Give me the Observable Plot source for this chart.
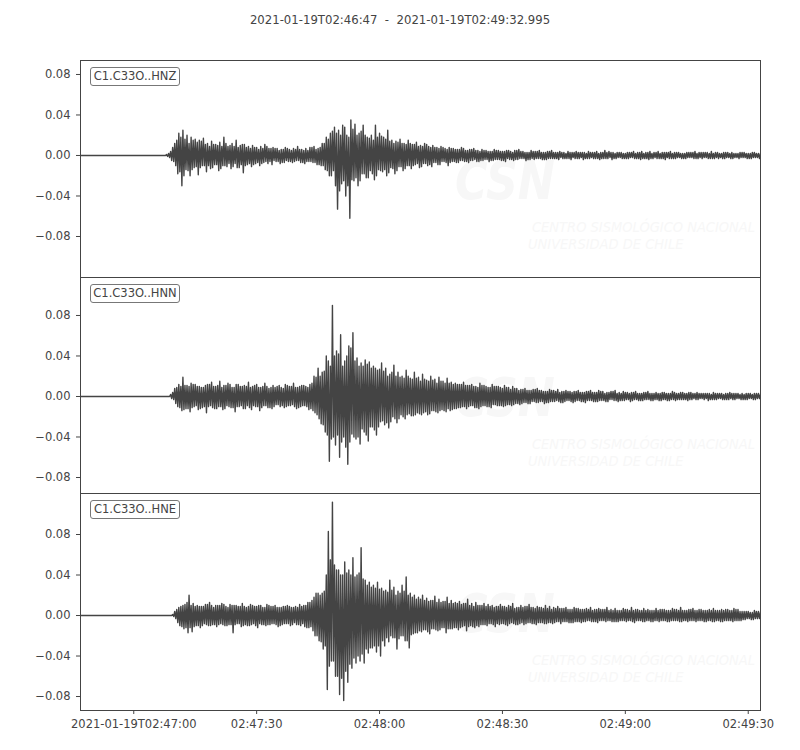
<!DOCTYPE html>
<html>
<head>
<meta charset="utf-8">
<script src="https://cdn.jsdelivr.net/npm/d3@7"></script>
<script src="https://cdn.jsdelivr.net/npm/@observablehq/plot@0.6"></script>
<style>
  body { margin: 0; background: #fff; }
  #wrap { position: relative; width: 800px; height: 750px; font-family: "DejaVu Sans", sans-serif; color: #444; overflow: hidden; }
  .abs { position: absolute; }
  .title { left: 0; width: 800px; top: 13px; text-align: center; font-size: 11.7px; line-height: 14px; white-space: pre; }
  .lbl { left: 90px; width: 88px; height: 17px; border: 1px solid #777; border-radius: 3px; background: #fff;
         font-size: 11.5px; line-height: 17px; text-align: center; white-space: pre; }
  .wm1 { font-weight: bold; font-style: italic; font-size: 54px; line-height: 54px; color: #f7f7f7; transform: scaleX(0.82); transform-origin: 0 0; white-space: pre; }
  .wm2 { font-style: italic; font-size: 14.5px; line-height: 14.5px; color: #f7f7f7; transform: scaleX(0.9); transform-origin: 0 0; white-space: pre; }
</style>
</head>
<body>
<div id="wrap"></div>
<script>
// ---- data ----
const titleText = "2021-01-19T02:46:47  -  2021-01-19T02:49:32.995";
const startISO = "2021-01-19T02:46:47Z";
const endISO = "2021-01-19T02:49:32.995Z";
const stepSeconds = 0.5;      // one window of the read-off trace
const unit = 0.001;           // values below are in thousandths
const channels = ["C1.C33O..HNZ", "C1.C33O..HNN", "C1.C33O..HNE"];

// for every 0.5 s window: the two opposite extremes (A, B)
const hnzA = [
0,0,0,0,0,0,0,0,0,0, 0,0,0,0,0,0,0,0,0,0, 0,0,0,0,0,0,0,0,0,0, 0,0,0,0,0,0,0,0,0,0, 0,0,
1,-2,4,-6,12,-18,22,-30,25,-14,20,-20,18,-12,16,-19,15,-10,17,-16,
12,-13,14,-9,11,-15,13,-10,18,-11,9,-13,12,-8,15,-12,10,-17,11,-9,
9,-11,10,-8,8,-10,9,-7,11,-8,7,-9,8,-6,7,-8,6,-7,8,-6,
6,-7,7,-5,9,-7,6,-8,7,-6,8,-7,9,-9,7,-10,12,-14,18,-20,
22,-15,28,-53,25,-28,30,-40,20,-62,35,-25,31,-30,22,-18,30,-22,18,-15,
20,-24,30,-14,22,-16,18,-20,25,-12,15,-18,14,-11,16,-15,12,-10,15,-13,
11,-9,13,-12,10,-8,12,-10,9,-11,10,-7,8,-9,9,-6,7,-10,8,-6,
7,-7,6,-5,8,-6,5,-7,6,-5,7,-6,5,-5,6,-4,5,-6,4,-5,
6,-4,5,-5,4,-6,5,-4,4,-5,5,-4,6,-3,4,-5,3,-4,5,-4,
4,-3,5,-4,3,-4,4,-3,5,-3,3,-4,4,-3,3,-3,4,-4,3,-3,
4,-3,3,-4,3,-3,4,-2,3,-3,4,-4,3,-3,5,-3,4,-4,3,-3,
3,-2,3,-3,2,-3,3,-2,4,-3,3,-4,4,-3,3,-4,4,-3,3,-3,
4,-3,3,-4,3,-3,4,-3,3,-2,3,-3,2,-3,3,-2,3,-3,4,-3,
3,-3,3,-2,3,-3,4,-3,3,-3,2,-3,3,-2,3,-3,3,-2,2,-3,
3,-2,3,-3,2,-3,3,-2,2,-3,2
];
const hnzB = [
0,0,0,0,0,0,0,0,0,0, 0,0,0,0,0,0,0,0,0,0, 0,0,0,0,0,0,0,0,0,0, 0,0,0,0,0,0,0,0,0,0, 0,0,
-1,2,-5,8,-10,15,-16,18,-20,16,-15,12,-14,15,-11,13,-12,14,-10,11,
-10,9,-12,11,-9,10,-13,9,-10,12,-8,10,-11,9,-12,8,-9,11,-10,8,
-8,7,-9,8,-7,6,-8,7,-6,9,-6,7,-5,7,-6,5,-7,6,-5,7,
-6,5,-6,6,-5,6,-7,5,-6,5,-6,8,-7,6,-9,8,-10,12,-15,16,
-20,24,-30,22,-35,20,-25,28,-30,18,-24,26,-22,20,-25,24,-18,20,-22,17,
-18,15,-20,18,-15,19,-14,16,-17,14,-13,12,-15,13,-11,12,-13,11,-10,12,
-10,11,-8,9,-11,9,-8,11,-9,8,-7,8,-9,7,-6,8,-7,6,-7,7,
-6,6,-7,6,-5,7,-6,5,-5,6,-4,5,-6,4,-5,5,-4,4,-5,4,
-4,5,-4,4,-5,4,-3,5,-4,3,-4,5,-3,4,-3,3,-4,3,-3,4,
-3,4,-3,3,-4,3,-3,4,-3,3,-3,3,-2,3,-3,2,-3,3,-2,3,
-3,3,-2,3,-3,2,-3,3,-3,3,-3,2,-3,3,-3,3,-2,3,-3,2,
-2,3,-3,2,-3,3,-2,3,-3,2,-3,3,-3,2,-3,3,-3,2,-2,3,
-3,2,-3,3,-2,3,-3,2,-3,3,-2,2,-3,2,-2,3,-2,3,-3,2,
-2,3,-2,3,-3,2,-3,2,-2,3,-2,2,-3,3,-2,2,-3,2,-2,2,
-2,3,-2,2,-3,2,-2,3,-2,2,-2
];

const hnnA = [
0,0,0,0,0,0,0,0,0,0, 0,0,0,0,0,0,0,0,0,0, 0,0,0,0,0,0,0,0,0,0, 0,0,0,0,0,0,0,0,0,0, 0,0,0,0,
2,-3,8,-10,12,-14,19,-12,11,-15,13,-10,12,-13,10,-11,9,-16,12,-9,
14,-12,10,-10,15,-13,11,-9,13,-11,9,-15,12,-10,10,-12,11,-9,14,-13,
10,-10,12,-14,9,-9,13,-11,8,-12,11,-8,10,-10,9,-11,12,-9,10,-8,
13,-12,9,-10,11,-9,10,-13,12,-14,20,-18,28,-27,24,-35,40,-64,30,90,
-48,45,-60,61,-40,35,-67,50,-37,63,-42,38,-47,33,-35,36,-44,34,-30,30,
-38,26,-25,33,-28,28,-31,22,-20,31,-26,24,-18,20,-22,26,-17,18,-19,24,
-16,19,-18,22,-15,16,-17,20,-14,17,-16,19,-13,15,-15,18,-14,14,-12,13,
-11,12,-10,14,-12,11,-9,12,-11,10,-12,13,-9,11,-10,9,-11,12,-8,10,
-9,9,-10,11,-8,9,-9,10,-7,8,-8,7,-6,8,-7,6,-5,7,-6,8,
-5,6,-7,5,-6,7,-5,6,-4,7,-6,5,-5,6,-4,5,-6,5,-4,6,
-5,4,-6,5,-4,6,-5,4,-5,6,-4,5,-5,4,-3,5,-4,6,-5,4,
-4,5,-3,4,-5,4,-3,5,-4,3,-4,4,-3,5,-4,3,-3,4,-4,3,
-3,4,-4,3,-3,5,-4,3,-3,4,-3,3,-4,4,-3,3,-3,4,-2,3,
-3,3,-4,3,-3,4,-3,3,-2,3,-3,3,-3,4,-3,3,-2,3,-3,3,
-3,3,-2,3,-3,3,-2,3,-3
];
const hnnB = [
0,0,0,0,0,0,0,0,0,0, 0,0,0,0,0,0,0,0,0,0, 0,0,0,0,0,0,0,0,0,0, 0,0,0,0,0,0,0,0,0,0, 0,0,0,0,
-2,4,-7,9,-11,10,-13,11,-12,10,-11,12,-9,10,-12,9,-10,11,-10,12,
-11,10,-12,11,-10,9,-12,11,-10,12,-11,9,-10,12,-9,10,-12,10,-11,9,
-9,11,-10,9,-11,10,-9,10,-11,9,-10,9,-8,11,-9,8,-10,11,-9,10,
-10,9,-11,10,-9,11,-10,9,-12,13,-16,19,-22,20,-28,25,-38,35,-42,-40,
40,-38,42,-45,30,-50,40,-45,48,-40,35,-40,30,-32,30,-38,32,-30,28,-33,
28,-30,27,-24,25,-26,20,-25,24,-22,20,-22,19,-20,18,-18,20,-19,17,-18,
18,-17,15,-16,17,-18,15,-14,16,-15,13,-14,15,-14,13,-12,13,-13,12,-12,
12,-11,12,-10,11,-10,11,-9,10,-11,9,-10,11,-9,10,-10,9,-8,10,-9,
10,-9,8,-9,9,-8,7,-8,8,-7,6,-7,7,-6,6,-7,6,-5,7,-6,
6,-5,5,-6,5,-5,6,-5,5,-5,4,-6,5,-4,5,-5,4,-5,5,-4,
4,-5,4,-4,5,-4,4,-5,4,-4,5,-4,3,-5,4,-3,5,-4,3,-4,
3,-4,4,-3,3,-4,4,-3,3,-4,3,-3,4,-3,3,-4,3,-3,3,-4,
4,-3,3,-4,3,-3,4,-3,3,-3,4,-3,3,-3,4,-2,3,-3,3,-2,
3,-2,3,-3,2,-3,3,-2,3,-3,2,-3,3,-2,3,-3,3,-2,2,-3,
2,-3,3,-2,2,-3,3,-2,2
];

const hneA = [
0,0,0,0,0,0,0,0,0,0, 0,0,0,0,0,0,0,0,0,0, 0,0,0,0,0,0,0,0,0,0, 0,0,0,0,0,0,0,0,0,0, 0,0,0,0,0,
1,-3,6,-10,9,-13,11,-17,20,-16,12,-10,10,-12,9,-8,11,-10,13,-9,
8,-11,10,-8,12,-10,9,-9,11,-17,10,-8,9,-11,12,-9,8,-10,11,-8,
9,-12,10,-9,8,-10,11,-9,9,-8,10,-11,8,-9,9,-8,10,-10,8,-7,
9,-9,11,-8,10,-12,13,-11,15,-20,22,-25,20,-33,24,-73,83,-45,112,-60,
45,-78,40,-84,53,-66,45,-52,57,-47,40,-45,67,-47,35,-37,33,-32,30,-36,
33,-40,27,-30,25,-26,35,-22,28,-33,24,-20,30,-25,38,-32,22,-18,20,-17,
18,-16,20,-14,17,-18,15,-13,19,-15,16,-12,14,-17,18,-13,15,-12,13,-14,
14,-11,12,-15,16,-10,12,-12,13,-11,10,-9,12,-10,11,-8,10,-11,9,-9,
11,-8,9,-10,10,-7,12,-9,8,-8,10,-9,9,-7,11,-8,8,-9,9,-7,
8,-8,10,-7,9,-8,8,-6,9,-8,7,-6,8,-7,6,-7,8,-6,7,-7,
6,-6,7,-5,8,-6,6,-7,7,-5,6,-6,8,-5,6,-6,7,-6,5,-5,
7,-6,6,-5,8,-7,6,-5,5,-6,7,-5,6,-6,5,-5,7,-6,6,-5,
6,-6,5,-5,7,-5,6,-6,8,-5,5,-6,6,-5,7,-6,5,-5,6,-6,
5,-5,6,-6,7,-5,5,-6,6,-5,6,-5,5,-6,7,-5,6,-5,4,-4,
4,-3,3,-4,5,-3,4,-3
];
const hneB = [
0,0,0,0,0,0,0,0,0,0, 0,0,0,0,0,0,0,0,0,0, 0,0,0,0,0,0,0,0,0,0, 0,0,0,0,0,0,0,0,0,0, 0,0,0,0,0,
-1,4,-7,8,-11,10,-12,13,-12,10,-11,9,-10,9,-10,9,-9,11,-10,10,
-9,10,-9,10,-9,11,-10,8,-9,10,-9,10,-8,9,-10,9,-10,9,-9,10,
-10,9,-8,10,-9,8,-9,10,-8,9,-9,8,-10,8,-8,9,-8,9,-9,8,
-9,8,-10,9,-11,10,-12,13,-15,18,-20,22,-26,22,-30,40,-50,55,-45,50,
-60,45,-62,40,-55,42,-48,40,-42,38,-40,42,-38,36,-33,30,-32,28,-30,27,
-30,26,-25,24,-22,23,-20,25,-22,20,-23,22,-20,24,-25,20,-19,18,-17,16,
-15,16,-14,15,-16,14,-13,15,-14,13,-14,13,-12,14,-13,12,-13,12,-12,12,
-12,11,-10,12,-11,10,-11,9,-10,10,-9,10,-9,9,-8,9,-9,8,-8,9,
-8,9,-9,8,-8,9,-8,7,-9,8,-7,8,-8,9,-7,8,-8,7,-7,8,
-7,7,-8,7,-7,6,-7,7,-6,7,-6,7,-6,6,-7,6,-6,7,-6,6,
-6,6,-5,6,-6,5,-6,6,-5,6,-5,6,-5,5,-6,5,-6,5,-5,5,
-5,6,-5,5,-6,5,-5,6,-5,5,-6,5,-5,5,-6,5,-5,5,-5,6,
-5,5,-6,5,-5,6,-5,5,-6,5,-5,5,-5,6,-5,5,-5,6,-5,5,
-6,5,-5,5,-6,5,-5,5,-6,5,-5,6,-5,5,-5,6,-5,4,-4,4,
-3,4,-4,3,-3,4,-3,3
];

const yTicks = [-0.08, -0.04, 0, 0.04, 0.08];
const xTickTimes = ["2021-01-19T02:47:00Z", "2021-01-19T02:47:30Z", "2021-01-19T02:48:00Z",
                    "2021-01-19T02:48:30Z", "2021-01-19T02:49:00Z", "2021-01-19T02:49:30Z"];
const xTickLabels = ["2021-01-19T02:47:00", "02:47:30", "02:48:00", "02:48:30", "02:49:00", "02:49:30"];
const watermarkBig = "CSN";
const watermarkLines = ["CENTRO SISMOLÓGICO NACIONAL", "UNIVERSIDAD DE CHILE"];

// ---- build ----
const wrap = document.getElementById("wrap");
const t0 = Date.parse(startISO);
const stepMs = stepSeconds * 1000;
// each window is drawn max first, then min, as a min/max trace plot does
function series(A, B) {
  const out = [];
  const n = Math.min(A.length, B.length);
  for (let i = 0; i < n; i++) {
    const hi = Math.max(A[i], B[i]), lo = Math.min(A[i], B[i]);
    out.push({time: new Date(t0 + i * stepMs), value: hi * unit});
    out.push({time: new Date(t0 + i * stepMs + stepMs / 2), value: lo * unit});
  }
  return out;
}
const xDomain = [new Date(startISO), new Date(endISO)];
const xTicks = xTickTimes.map(s => new Date(s));
const fmtX = d => { const k = xTicks.findIndex(t => +t === +d); return k < 0 ? "" : xTickLabels[k]; };
const fmtY = d3.format(".2f");

const title = document.createElement("div");
title.className = "abs title";
title.textContent = titleText;
wrap.appendChild(title);

const layouts = [
  {A: hnzA, B: hnzB, domain: [-0.1205, 0.0938], top: 40,  mt: 20, mb: 0,  h: 237, frameTop: 60,  axis: false},
  {A: hnnA, B: hnnB, domain: [-0.0958, 0.1175], top: 277, mt: 0,  mb: 0,  h: 216, frameTop: 277, axis: false},
  {A: hneA, B: hneB, domain: [-0.0938, 0.1205], top: 493, mt: 0,  mb: 40, h: 257, frameTop: 493, axis: true}
];

// very faint watermark behind each trace
layouts.forEach(L => {
  const a = document.createElement("div");
  a.className = "abs wm1"; a.style.left = "455px"; a.style.top = (L.frameTop + 94) + "px";
  a.textContent = watermarkBig; wrap.appendChild(a);
  watermarkLines.forEach((s, j) => {
    const b = document.createElement("div");
    b.className = "abs wm2"; b.style.left = (532 - j * 4) + "px"; b.style.top = (L.frameTop + 160 + j * 17) + "px";
    b.textContent = s; wrap.appendChild(b);
  });
});

layouts.forEach((L, idx) => {
  const xOpts = L.axis
    ? {type: "utc", domain: xDomain, ticks: xTicks, tickFormat: fmtX, tickSize: 4, tickPadding: 5, label: null}
    : {type: "utc", domain: xDomain, axis: null};
  const chart = Plot.plot({
    width: 800, height: L.h,
    marginLeft: 80, marginRight: 40, marginTop: L.mt, marginBottom: L.mb,
    style: {background: "transparent", overflow: "visible", fontFamily: "DejaVu Sans", fontSize: "11.5px", color: "#444"},
    x: xOpts,
    y: {domain: L.domain, ticks: yTicks, tickFormat: fmtY, tickSize: 4, tickPadding: 6, label: null},
    marks: [
      Plot.line(series(L.A, L.B), {x: "time", y: "value", stroke: "#444444", strokeWidth: 1.4, clip: true}),
      Plot.frame({stroke: "#444"})
    ]
  });
  const holder = document.createElement("div");
  holder.className = "abs"; holder.style.left = "0px"; holder.style.top = L.top + "px";
  holder.appendChild(chart);
  wrap.appendChild(holder);

  const lbl = document.createElement("div");
  lbl.className = "abs lbl"; lbl.style.top = (L.frameTop + 7) + "px";
  lbl.textContent = channels[idx];
  wrap.appendChild(lbl);
});
</script>
</body>
</html>
